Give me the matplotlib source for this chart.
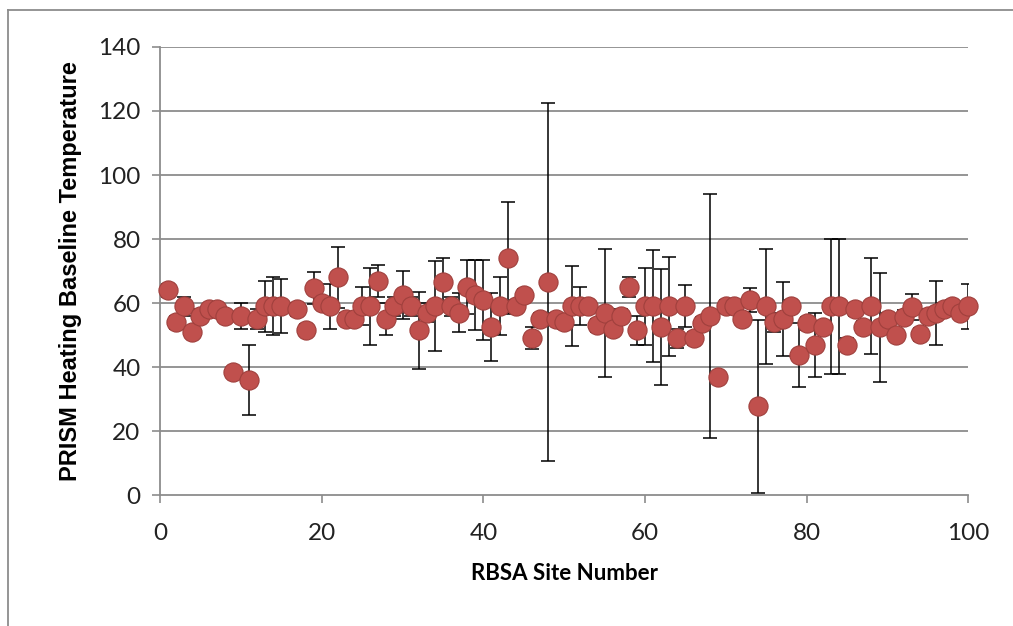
import matplotlib
matplotlib.use('Agg')
import matplotlib.pyplot as plt
from matplotlib.lines import Line2D

# sitios y temperaturas base
sitio = [1, 2, 3, 4, 5, 6, 7, 8, 9, 10, 11, 12, 13, 14, 15, 17, 18, 19, 20,
         21, 22, 23, 24, 25, 26, 27, 28, 29, 30, 31, 32, 33, 34, 35, 36, 37, 38, 39, 40,
         41, 42, 43, 44, 45, 46, 47, 48, 49, 50, 51, 52, 53, 54, 55, 56, 57, 58, 59, 60,
         61, 62, 63, 64, 65, 66, 67, 68, 69, 70, 71, 72, 73, 74, 75, 76, 77, 78, 79, 80,
         81, 82, 83, 84, 85, 86, 87, 88, 89, 90, 91, 92, 93, 94, 95, 96, 97, 98, 99, 100]
temp = [64, 54, 59, 51, 56, 58, 58, 56, 38.5, 56, 36, 55, 59, 59, 59, 58, 51.6, 64.7, 60,
        59, 68, 55, 55, 59, 59, 67, 55, 59, 62.5, 59, 51.5, 57, 59, 66.6, 59, 57, 65, 62.5, 61,
        52.5, 59, 74, 59, 62.5, 49, 55, 66.6, 55, 54, 59, 59, 59, 53, 57, 52, 56, 65, 51.5, 59,
        59, 52.5, 59, 49, 59, 49, 53.7, 56, 37, 59, 59, 55, 61, 27.8, 59, 54, 55, 59, 43.7, 53.7,
        47, 52.5, 59, 59, 47, 58, 52.5, 59, 52.5, 55, 50, 55.8, 58.7, 50.3, 56, 57, 58, 59, 57, 59]
error = [2, 2, 3, 1, 2, 1, 1, 1, 1, 4, 11, 3, 8, 9, 8.5, 2, 2, 5, 2,
         7, 9.5, 2, 2, 6, 12, 5, 5, 3, 7.5, 3, 12, 3, 14, 7.5, 3, 6, 8.5, 11, 12.5,
         10.5, 9, 17.5, 2, 2, 3.5, 2, 56, 2, 2, 12.5, 6, 2, 2, 20, 2, 2, 3, 4.5, 12,
         17.5, 18, 15.5, 3, 6.5, 2, 2, 38, 1, 2, 2, 2, 3.7, 27, 18, 3, 11.5, 2, 10, 2,
         10, 2, 21, 21, 2, 2, 2, 15, 17, 2, 2, 2, 4, 2, 2, 10, 2, 2, 2, 7]

yticks = [0, 20, 40, 60, 80, 100, 120, 140]
xticks = [0, 20, 40, 60, 80, 100]

plt.rcParams['font.family'] = ['Lato', 'DejaVu Sans']

fig = plt.figure(figsize=(10.13, 6.26), dpi=100)
ax = fig.add_axes([0.158, 0.209, 0.798, 0.716])

# lineas de cuadricula
for t in yticks[1:]:
    ax.axhline(t, color='#8c8c8c', linewidth=1.3, zorder=0)

ax.errorbar(sitio, temp, yerr=error, fmt='none', ecolor='black', elinewidth=1.1,
            capsize=5, capthick=1.1, zorder=2)
ax.plot(sitio, temp, 'o', markersize=13.8, markerfacecolor='#C0504D',
        markeredgecolor='#A0403D', markeredgewidth=0.8, linestyle='none', zorder=3,
        clip_on=False)

ax.set_xlim(0, 100)
ax.set_ylim(0, 140)
ax.set_xticks(xticks)
ax.set_yticks(yticks)
ax.tick_params(axis='both', direction='out', length=6, width=1.2, color='#8c8c8c',
               labelsize=17.5, labelcolor='#222222')
ax.tick_params(axis='x', pad=14)
ax.tick_params(axis='y', pad=8)
for s in ['top', 'right']:
    ax.spines[s].set_visible(False)
for s in ['left', 'bottom']:
    ax.spines[s].set_color('#8c8c8c')
    ax.spines[s].set_linewidth(1.3)

ax.set_xlabel('RBSA Site Number', fontsize=16, fontweight='bold', labelpad=14)
ax.set_ylabel('PRISM Heating Baseline Temperature', fontsize=17, fontweight='bold',
              labelpad=12, family=['Liberation Sans', 'DejaVu Sans'])

# marco exterior (solo arriba e izquierda)
fig.add_artist(Line2D([0.008, 1.0], [0.984, 0.984], color='#8c8c8c', linewidth=1.3))
fig.add_artist(Line2D([0.008, 0.008], [0.0, 0.984], color='#8c8c8c', linewidth=1.3))

fig.savefig('out.png', dpi=100)
